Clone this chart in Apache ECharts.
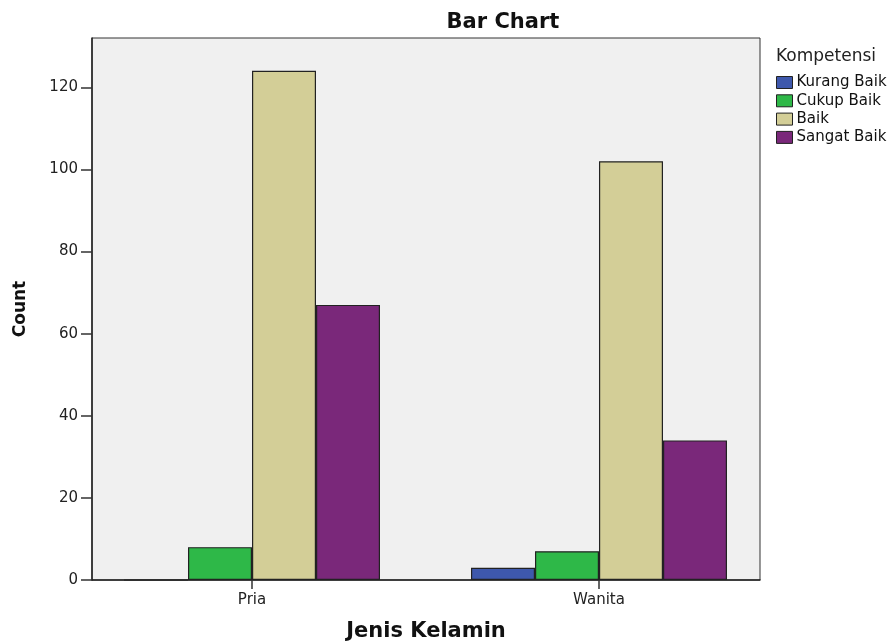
<!DOCTYPE html>
<html>
<head>
<meta charset="utf-8">
<script src="https://cdn.jsdelivr.net/npm/echarts@6/dist/echarts.min.js"></script>
<style>html,body{margin:0;padding:0;background:#fff;}#c{width:890px;height:643px;}</style>
</head>
<body>
<div id="c"></div>
<script>
var categories = ['Pria', 'Wanita'];
var seriesNames = ['Kurang Baik', 'Cukup Baik', 'Baik', 'Sangat Baik'];
var kurangBaik = [0, 3];
var cukupBaik = [8, 7];
var baik = [124, 102];
var sangatBaik = [67, 34];
var yTicks = [0, 20, 40, 60, 80, 100, 120];
var colors = ['#3e58ac', '#2eb848', '#d3ce97', '#7a287a'];
var values = [kurangBaik, cukupBaik, baik, sangatBaik];
var catIdx = categories.map(function (c, i) { return i; });

var chart = echarts.init(document.getElementById('c'));
var yMax = 132;
var option = {
  animation: false,
  title: [
    { text: 'Bar Chart', left: 498, top: 7, textAlign: 'center',
      textStyle: { fontFamily: 'DejaVu Sans', fontWeight: 'bold', fontSize: 21, color: '#111' } },
    { text: 'Kompetensi', left: 771, top: 43,
      textStyle: { fontFamily: 'DejaVu Sans', fontWeight: 'normal', fontSize: 17, color: '#222' } }
  ],
  legend: {
    orient: 'vertical', left: 771, top: 70, itemWidth: 16, itemHeight: 12, itemGap: 3.3,
    icon: 'rect',
    data: seriesNames,
    textStyle: { fontFamily: 'DejaVu Sans', fontSize: 15, lineHeight: 12, color: '#111', padding: [0, 0, 0, -1] },
    itemStyle: { borderColor: '#222', borderWidth: 1 }
  },
  grid: { left: 92, right: 130, top: 38, bottom: 63, outerBoundsMode: 'none', containLabel: false,
    show: true, backgroundColor: '#f0f0f0', borderColor: '#333', borderWidth: 1 },
  xAxis: {
    type: 'value', min: -0.4611, max: 1.464,
    splitLine: { show: false },
    axisLine: { show: true, onZero: false, lineStyle: { color: '#222', width: 1.5 } },
    axisTick: { show: true, length: 9, customValues: catIdx, lineStyle: { color: '#333', width: 1.5 } },
    axisLabel: { margin: 13, customValues: catIdx, formatter: function (v) { return categories[Math.round(v)]; },
      fontFamily: 'DejaVu Sans', fontSize: 15, color: '#222' },
    name: 'Jenis Kelamin', nameLocation: 'middle', nameGap: 41,
    nameTextStyle: { fontFamily: 'DejaVu Sans', fontWeight: 'bold', fontSize: 21, color: '#111' }
  },
  yAxis: {
    type: 'value', min: 0, max: yMax, interval: 20,
    splitLine: { show: false },
    axisLine: { show: true, onZero: false, lineStyle: { color: '#222', width: 1.5 } },
    axisTick: { show: true, length: 11, customValues: yTicks, lineStyle: { color: '#333', width: 1.5 } },
    axisLabel: { margin: 14, customValues: yTicks, fontFamily: 'DejaVu Sans', fontSize: 15, color: '#222' },
    name: 'Count', nameLocation: 'middle', nameGap: 63, nameRotate: 90,
    nameTextStyle: { fontFamily: 'DejaVu Sans', fontWeight: 'bold', fontSize: 17, color: '#111' }
  },
  series: seriesNames.map(function (n, i) {
    return {
      name: n, type: 'bar',
      data: values[i].map(function (v, j) { return [catIdx[j], v]; }),
      barWidth: 64, barGap: '0%',
      itemStyle: { color: colors[i], borderColor: '#222', borderWidth: 1.2 }
    };
  })
};
chart.setOption(option);
</script>
</body>
</html>
